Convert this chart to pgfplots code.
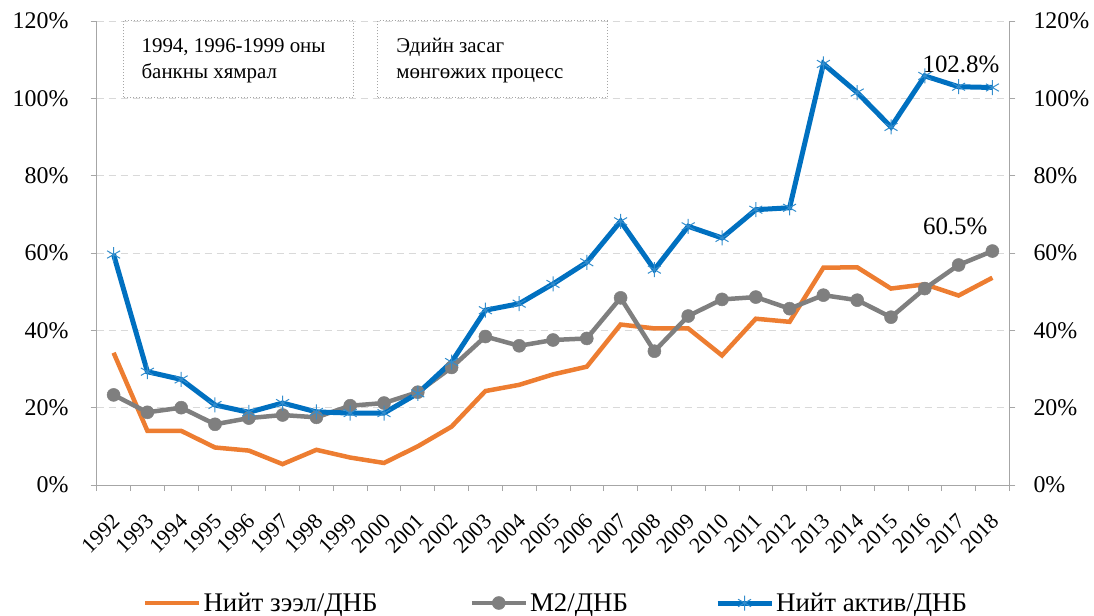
\documentclass[border=0pt]{standalone}
\usepackage{fontspec}
\setmainfont{Liberation Serif}
\usepackage{pgfplots}
\pgfplotsset{compat=1.18}
\definecolor{cOr}{HTML}{ED7D31}
\definecolor{cGr}{HTML}{7F7F7F}
\definecolor{cBl}{HTML}{0070C0}
\definecolor{cAx}{HTML}{A6A6A6}
\definecolor{cGd}{HTML}{D9D9D9}
\begin{document}
\begin{tikzpicture}
\path[use as bounding box] (-96.7bp,-131bp) rectangle (997.3bp,485bp);
\begin{axis}[
 scale only axis, width=912.6bp, height=464bp,
 xmin=1991.5, xmax=2018.5, ymin=0, ymax=120,
 axis x line*=bottom, axis y line*=left,
 axis line style={cAx, line width=0.8pt},
 xtick={1992,...,2018}, major x tick style={draw=none},
 minor xtick={1991.5,1992.5,...,2018.5},
 ytick={0,20,...,120}, yticklabel={\pgfmathprintnumber{\tick}\%},
 ymajorgrids, grid style={cGd, dash pattern=on 7bp off 5bp, line width=0.8pt},
 tick style={cAx, line width=0.8pt}, tick align=outside,
 major tick length=6bp, minor tick length=6bp,
 /pgf/number format/assume math mode=true, /pgf/number format/1000 sep={},
 ticklabel style={font=\fontsize{24}{28}\selectfont},
 yticklabel style={anchor=east, inner sep=0pt, xshift=-22bp},
 xticklabel style={xshift=3bp, yshift=-27bp, rotate=45, anchor=east, font=\fontsize{22}{24}\selectfont, inner sep=0pt},
 legend columns=3,
 legend style={draw=none, at={(0.5,0)}, anchor=center, yshift=-118bp, xshift=3bp,
   font=\fontsize{27}{30}\selectfont,
   /tikz/column 2/.style={column sep=90bp},
   /tikz/column 4/.style={column sep=85bp}},
 legend cell align=left,
 legend image code/.code={\draw[mark repeat=2,mark phase=2,#1] plot coordinates {(0bp,0bp) (27bp,0bp) (54bp,0bp)};},
]
\addplot[cOr, line width=4.5bp, no markers] coordinates {
(1992,34.2)(1993,14.0)(1994,14.0)(1995,9.7)(1996,8.9)(1997,5.4)(1998,9.1)(1999,7.1)(2000,5.7)
(2001,10.0)(2002,15.1)(2003,24.3)(2004,25.9)(2005,28.6)(2006,30.6)(2007,41.5)(2008,40.5)
(2009,40.5)(2010,33.5)(2011,43.0)(2012,42.2)(2013,56.2)(2014,56.3)(2015,50.8)(2016,51.9)
(2017,49.0)(2018,53.6)};
\addlegendentry{Нийт зээл/ДНБ}
\addplot[cGr, line width=4.5bp, mark=*, mark size=6.5bp, mark options={fill=cGr, draw=cGr, line width=0.5bp}] coordinates {
(1992,23.3)(1993,18.8)(1994,20.0)(1995,15.7)(1996,17.3)(1997,18.1)(1998,17.5)(1999,20.5)(2000,21.2)
(2001,24.0)(2002,30.4)(2003,38.4)(2004,36.0)(2005,37.5)(2006,37.9)(2007,48.4)(2008,34.6)
(2009,43.7)(2010,48.0)(2011,48.6)(2012,45.6)(2013,49.1)(2014,47.8)(2015,43.4)(2016,50.8)
(2017,56.9)(2018,60.5)};
\addlegendentry{M2/ДНБ}
\addplot[cBl, line width=5bp, mark=asterisk, mark size=7.5bp, mark options={line width=1bp, draw=cBl!80!white}] coordinates {
(1992,59.6)(1993,29.3)(1994,27.3)(1995,20.7)(1996,18.8)(1997,21.2)(1998,18.9)(1999,18.6)(2000,18.6)
(2001,23.7)(2002,31.8)(2003,45.2)(2004,46.9)(2005,52.0)(2006,57.6)(2007,68.2)(2008,55.7)
(2009,66.9)(2010,63.9)(2011,71.2)(2012,71.7)(2013,108.9)(2014,101.5)(2015,92.6)(2016,105.8)
(2017,103.0)(2018,102.8)};
\addlegendentry{Нийт актив/ДНБ}
\draw[cAx, dotted, line width=1bp] (axis cs:1992.28,100.3) rectangle (axis cs:1999.09,120);
\draw[cAx, dotted, line width=1bp] (axis cs:1999.82,100.3) rectangle (axis cs:2006.6,120);
\node[anchor=north west, align=left, font=\fontsize{21}{26}\selectfont, xshift=15bp, yshift=-14bp]
  at (axis cs:1992.28,120) {1994, 1996-1999 оны\\банкны хямрал};
\node[anchor=north west, align=left, font=\fontsize{21}{26}\selectfont, xshift=15bp, yshift=-14bp]
  at (axis cs:1999.82,120) {Эдийн засаг\\мөнгөжих процесс};
\node[font=\fontsize{25}{28}\selectfont] at (axis cs:2017.07,108.9) {102.8\%};
\node[font=\fontsize{25}{28}\selectfont] at (axis cs:2016.9,66.8) {60.5\%};
\end{axis}
\begin{axis}[
 scale only axis, width=912.6bp, height=464bp,
 xmin=1991.5, xmax=2018.5, ymin=0, ymax=120,
 axis y line*=right, axis x line=none,
 axis line style={cAx, line width=0.8pt},
 ytick={0,20,...,120}, yticklabel={\pgfmathprintnumber{\tick}\%},
 tick style={cAx, line width=0.8pt}, tick align=outside, major tick length=6bp,
 /pgf/number format/assume math mode=true,
 ticklabel style={font=\fontsize{24}{28}\selectfont},
 yticklabel style={anchor=west, inner sep=0pt, xshift=18bp},
]
\end{axis}
\end{tikzpicture}
\end{document}
